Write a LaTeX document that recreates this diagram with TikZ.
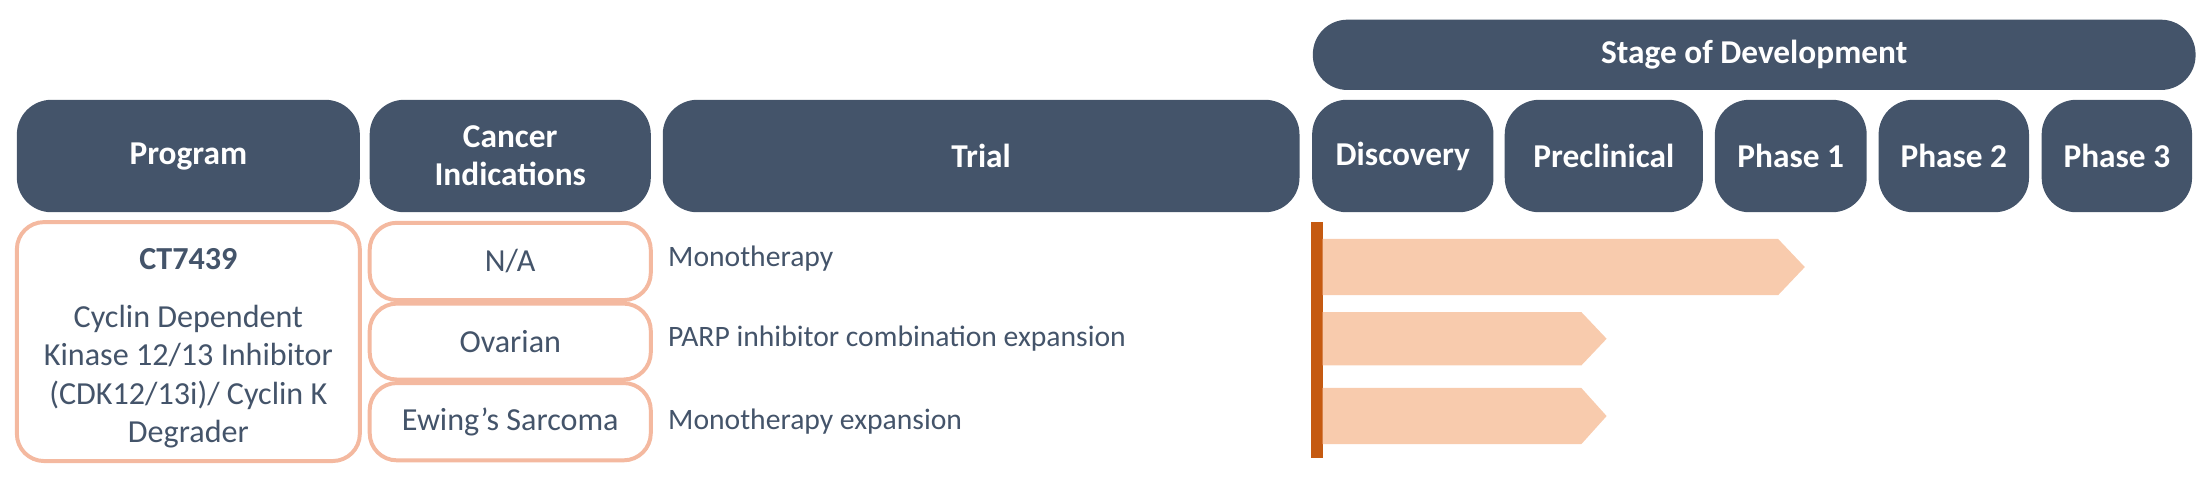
\documentclass[tikz,border=0pt]{standalone}
\usepackage{fontspec}
\setmainfont{Carlito}
\definecolor{hdr}{HTML}{44546A}
\definecolor{peach}{HTML}{F8CBAD}
\definecolor{rim}{HTML}{F4B9A0}
\definecolor{rust}{HTML}{C55A11}
\begin{document}
\begin{tikzpicture}
    [
      x=0.02cm, y=-0.02cm,
      head/.style=
      {
        fill=hdr,
        rounded corners=14pt,
        text=white,
        align=center,
        inner sep=0pt,
        font=\fontsize{13.5}{15.5}\selectfont\bfseries
      },
      cell/.style=
      {
        draw=rim,
        line width=1.6pt,
        rounded corners=11pt,
        fill=white,
        text=hdr,
        align=center,
        inner sep=0pt,
        font=\fontsize{13}{15}\selectfont
      },
      trial/.style=
      {
        anchor=west,
        text=hdr,
        inner sep=0pt,
        font=\fontsize{12}{14}\selectfont
      },
      bar/.style=
      {
        fill=peach
      }
    ]
    \useasboundingbox (0,0) rectangle (1568,341);
    % header row
    \node[head, minimum width=628*0.02cm, minimum height=50*0.02cm] (Stage) at (1248,39) {Stage of Development};
    \node[head, minimum width=244*0.02cm, minimum height=80*0.02cm] (Program) at (134,111) {Program};
    \node[head, minimum width=200*0.02cm, minimum height=80*0.02cm] (Cancer) at (363,111) {Cancer\\Indications};
    \node[head, minimum width=453*0.02cm, minimum height=80*0.02cm] (Trial) at (698,111) {Trial};
    \node[head, minimum width=129*0.02cm, minimum height=80*0.02cm] (Discovery) at (998,111) {Discovery};
    \node[head, minimum width=141*0.02cm, minimum height=80*0.02cm] (Preclinical) at (1141,111) {Preclinical};
    \node[head, minimum width=108*0.02cm, minimum height=80*0.02cm] (PhaseA) at (1274,111) {Phase 1};
    \node[head, minimum width=107*0.02cm, minimum height=80*0.02cm] (PhaseB) at (1390,111) {Phase 2};
    \node[head, minimum width=107*0.02cm, minimum height=80*0.02cm] (PhaseC) at (1506,111) {Phase 3};
    % program and indications
    \node[cell, minimum width=244*0.02cm, minimum height=170*0.02cm] (CT) at (134,243) {};
    \node[text=hdr, font=\fontsize{13}{15}\selectfont\bfseries] (CTname) at (134,184) {CT7439};
    \node[text=hdr, align=center, font=\fontsize{13}{15.5}\selectfont] (CTdesc) at (134,268)
      {Cyclin Dependent\\Kinase 12/13 Inhibitor\\(CDK12/13i)/ Cyclin K\\Degrader};
    \node[cell, minimum width=200*0.02cm, minimum height=55*0.02cm] (NA) at (363,186) {N/A};
    \node[cell, minimum width=200*0.02cm, minimum height=54*0.02cm] (Ovarian) at (363,243) {Ovarian};
    \node[cell, minimum width=200*0.02cm, minimum height=55*0.02cm] (Ewing) at (363,300) {Ewing’s Sarcoma};
    % trials
    \node[trial] (TrialA) at (475,184) {Monotherapy};
    \node[trial] (TrialB) at (475,241) {PARP inhibitor combination expansion};
    \node[trial] (TrialC) at (475,300) {Monotherapy expansion};
    % progress bars
    \fill[rust] (933,158) rectangle (941,326);
    \fill[bar] (941,170) -- (1265,170) -- (1284,190) -- (1265,210) -- (941,210) -- cycle;
    \fill[bar] (941,222) -- (1125,222) -- (1143,241) -- (1125,260) -- (941,260) -- cycle;
    \fill[bar] (941,276) -- (1125,276) -- (1143,296) -- (1125,316) -- (941,316) -- cycle;
  \end{tikzpicture}
\end{document}
